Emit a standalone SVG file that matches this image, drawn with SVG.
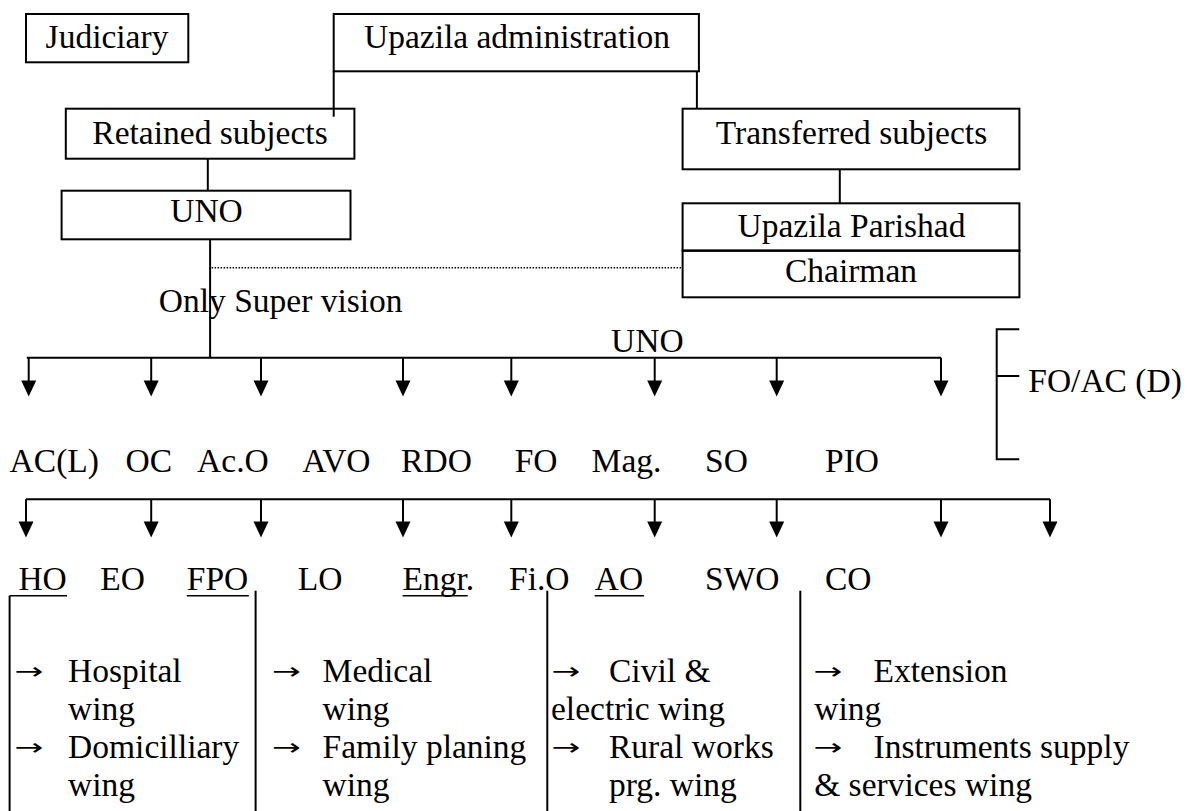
<svg xmlns="http://www.w3.org/2000/svg" width="1187" height="811" viewBox="0 0 1187 811">
  <style>
    text { font-family: "Liberation Serif", "Times New Roman", serif; font-size: 33.5px; fill: #000; }
    text.arr { font-family: "DejaVu Sans", sans-serif; font-size: 23px; }
    .mid { text-anchor: middle; }
    .box { fill: #fff; stroke: #000; stroke-width: 2; }
    .ln { stroke: #000; stroke-width: 2; fill: none; }
    .dot { stroke: #000; stroke-width: 1.5; stroke-dasharray: 1.5 1.5; fill: none; }
    .ul { stroke: #000; stroke-width: 1.6; }
  </style>
  <defs>
    <path id="head" d="M-7.5,0 L7.5,0 L0,16 Z" fill="#000"/>
  </defs>

  <!-- connectors -->
  <g id="connectors">
    <!-- administration to the two subject branches -->
    <line class="ln" x1="333.7" y1="71.3" x2="333.7" y2="116.7"/>
    <line class="ln" x1="696.9" y1="71.3" x2="696.9" y2="108.7"/>
    <line class="ln" x1="207.8" y1="158.7" x2="207.8" y2="190.7"/>
    <line class="ln" x1="839.8" y1="169.3" x2="839.8" y2="203.3"/>
    <!-- UNO down to the first bus -->
    <line class="ln" x1="210.1" y1="239.3" x2="210.1" y2="357.7"/>
    <!-- supervision link to the chairman -->
    <line class="dot" x1="211.6" y1="267.7" x2="681.4" y2="267.7"/>

    <!-- first bus with arrows -->
    <line class="ln" x1="26.8" y1="357.7" x2="941" y2="357.7"/>
    <g id="bus1-drops">
      <line class="ln" x1="28.7" y1="357.7" x2="28.7" y2="382"/>
      <line class="ln" x1="151.2" y1="357.7" x2="151.2" y2="382"/>
      <line class="ln" x1="261" y1="357.7" x2="261" y2="382"/>
      <line class="ln" x1="403" y1="357.7" x2="403" y2="382"/>
      <line class="ln" x1="511.3" y1="357.7" x2="511.3" y2="382"/>
      <line class="ln" x1="654.7" y1="357.7" x2="654.7" y2="382"/>
      <line class="ln" x1="776.7" y1="357.7" x2="776.7" y2="382"/>
      <line class="ln" x1="941" y1="357.7" x2="941" y2="382"/>
      <use href="#head" x="28.7" y="380.5"/>
      <use href="#head" x="151.2" y="380.5"/>
      <use href="#head" x="261" y="380.5"/>
      <use href="#head" x="403" y="380.5"/>
      <use href="#head" x="511.3" y="380.5"/>
      <use href="#head" x="654.7" y="380.5"/>
      <use href="#head" x="776.7" y="380.5"/>
      <use href="#head" x="941" y="380.5"/>
    </g>

    <!-- second bus with arrows -->
    <line class="ln" x1="26" y1="499.3" x2="1050" y2="499.3"/>
    <g id="bus2-drops">
      <line class="ln" x1="26" y1="499.3" x2="26" y2="523"/>
      <line class="ln" x1="151.2" y1="499.3" x2="151.2" y2="523"/>
      <line class="ln" x1="261" y1="499.3" x2="261" y2="523"/>
      <line class="ln" x1="403" y1="499.3" x2="403" y2="523"/>
      <line class="ln" x1="511.3" y1="499.3" x2="511.3" y2="523"/>
      <line class="ln" x1="654.7" y1="499.3" x2="654.7" y2="523"/>
      <line class="ln" x1="776.7" y1="499.3" x2="776.7" y2="523"/>
      <line class="ln" x1="941" y1="499.3" x2="941" y2="523"/>
      <line class="ln" x1="1050" y1="499.3" x2="1050" y2="523"/>
      <use href="#head" x="26" y="521.5"/>
      <use href="#head" x="151.2" y="521.5"/>
      <use href="#head" x="261" y="521.5"/>
      <use href="#head" x="403" y="521.5"/>
      <use href="#head" x="511.3" y="521.5"/>
      <use href="#head" x="654.7" y="521.5"/>
      <use href="#head" x="776.7" y="521.5"/>
      <use href="#head" x="941" y="521.5"/>
      <use href="#head" x="1050" y="521.5"/>
    </g>

    <!-- FO/AC (D) bracket -->
    <path class="ln" d="M1019.3,329.3 H996.7 V459.3 H1019.3 M996.7,376 H1019.3"/>

    <!-- column separators of the wing table -->
    <line class="ln" x1="9.6" y1="595.7" x2="9.6" y2="811"/>
    <line class="ln" x1="255.6" y1="590.7" x2="255.6" y2="811"/>
    <line class="ln" x1="547.3" y1="590.7" x2="547.3" y2="811"/>
    <line class="ln" x1="800.3" y1="590.7" x2="800.3" y2="811"/>
  </g>

  <!-- top level -->
  <g id="judiciary">
    <rect class="box" x="26" y="14" width="162.3" height="48.3"/>
    <text class="mid" x="107" y="48">Judiciary</text>
  </g>
  <g id="upazila-administration">
    <rect class="box" x="333.7" y="14" width="365.2" height="57.3"/>
    <text class="mid" x="517" y="48">Upazila administration</text>
  </g>

  <g id="retained-subjects">
    <rect class="box" x="65.8" y="108.7" width="288.6" height="50"/>
    <text class="mid" x="210" y="144.3">Retained subjects</text>
  </g>
  <line class="ln" x1="333.7" y1="108.7" x2="333.7" y2="116.7"/>

  <g id="transferred-subjects">
    <rect class="box" x="682.6" y="108.7" width="336.8" height="60.6"/>
    <text class="mid" x="851.5" y="144.3">Transferred subjects</text>
  </g>

  <g id="uno">
    <rect class="box" x="61.6" y="190.7" width="288.9" height="48.6"/>
    <text class="mid" x="206.5" y="221.7">UNO</text>
  </g>

  <g id="upazila-parishad">
    <rect class="box" x="682.6" y="203.3" width="336.8" height="47.4"/>
    <text class="mid" x="851.5" y="236.7">Upazila Parishad</text>
  </g>
  <g id="chairman">
    <rect class="box" x="682.6" y="250.7" width="336.8" height="46.6"/>
    <line class="ln" x1="682.6" y1="250.7" x2="1019.4" y2="250.7" stroke-width="3.2"/>
    <text class="mid" x="851" y="282.3">Chairman</text>
  </g>

  <g id="supervision-label">
    <text x="158.8" y="311.7">Only Super vision</text>
  </g>
  <g id="uno-bus-label">
    <text x="611" y="351.7">UNO</text>
  </g>
  <g id="fo-ac">
    <text x="1028.3" y="391.7">FO/AC (D)</text>
  </g>

  <!-- officers at the first level -->
  <g id="officers-1">
    <text x="9.6" y="471.7">AC(L)</text>
    <text x="125.5" y="471.7">OC</text>
    <text x="197.1" y="471.7">Ac.O</text>
    <text x="302.3" y="471.7">AVO</text>
    <text x="401.1" y="471.7">RDO</text>
    <text x="514.7" y="471.7">FO</text>
    <text x="591.6" y="471.7">Mag.</text>
    <text x="705" y="471.7">SO</text>
    <text x="825" y="471.7">PIO</text>
  </g>

  <!-- officers at the second level -->
  <g id="officers-2">
    <text x="18.4" y="590">HO</text>
    <text x="100.3" y="590">EO</text>
    <text x="186.8" y="590">FPO</text>
    <text x="297.7" y="590">LO</text>
    <text x="402.6" y="590">Engr.</text>
    <text x="509" y="590">Fi.O</text>
    <text x="594.7" y="590">AO</text>
    <text x="705" y="590">SWO</text>
    <text x="825" y="590">CO</text>
    <line class="ul" x1="9.6" y1="595.7" x2="67" y2="595.7"/>
    <line class="ul" x1="186.8" y1="595.7" x2="248.8" y2="595.7"/>
    <line class="ul" x1="402.6" y1="595.7" x2="467.7" y2="595.7"/>
    <line class="ul" x1="594.7" y1="595.7" x2="643.9" y2="595.7"/>
  </g>

  <!-- wings (arrow glyphs widened to the long symbol-font arrow) -->
  <g id="wings-health">
    <text class="arr" transform="translate(14.5,678.5) scale(1.5,1)">→</text>
    <text x="68.1" y="682">Hospital</text>
    <text x="68.1" y="720">wing</text>
    <text class="arr" transform="translate(14.5,754.5) scale(1.5,1)">→</text>
    <text x="68.1" y="758">Domicilliary</text>
    <text x="68.1" y="796">wing</text>
  </g>
  <g id="wings-medical">
    <text class="arr" transform="translate(272,678.5) scale(1.5,1)">→</text>
    <text x="322.6" y="682">Medical</text>
    <text x="322.6" y="720">wing</text>
    <text class="arr" transform="translate(272,754.5) scale(1.5,1)">→</text>
    <text x="322.6" y="758">Family planing</text>
    <text x="322.6" y="796">wing</text>
  </g>
  <g id="wings-engineering">
    <text class="arr" transform="translate(551.5,678.5) scale(1.5,1)">→</text>
    <text x="609" y="682">Civil &amp;</text>
    <text x="551" y="720">electric wing</text>
    <text class="arr" transform="translate(551.5,754.5) scale(1.5,1)">→</text>
    <text x="609" y="758">Rural works</text>
    <text x="609" y="796">prg. wing</text>
  </g>
  <g id="wings-agriculture">
    <text class="arr" transform="translate(813.5,678.5) scale(1.5,1)">→</text>
    <text x="873.5" y="682">Extension</text>
    <text x="814.2" y="720">wing</text>
    <text class="arr" transform="translate(813.5,754.5) scale(1.5,1)">→</text>
    <text x="873.5" y="758">Instruments supply</text>
    <text x="814.2" y="796">&amp; services wing</text>
  </g>
</svg>
